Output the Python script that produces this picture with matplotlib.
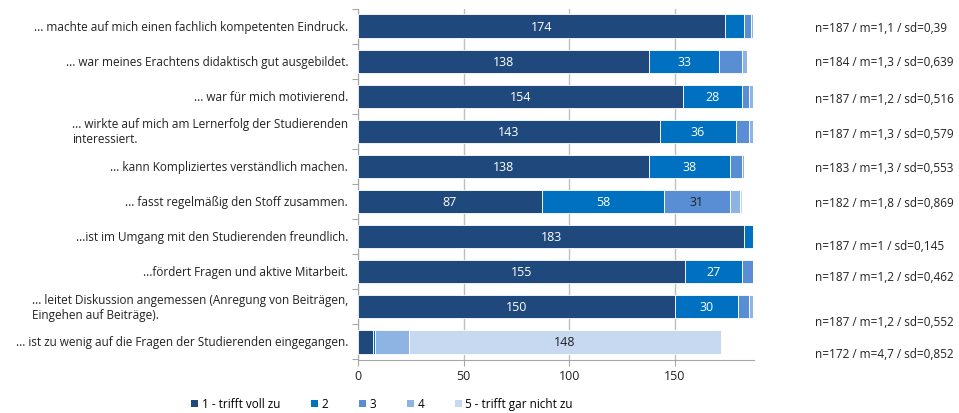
import numpy as np
import matplotlib
matplotlib.use("Agg")
import matplotlib.pyplot as plt
from matplotlib.patches import Patch

plt.rcParams['font.family'] = ['Open Sans', 'DejaVu Sans']

items = [
    "... machte auf mich einen fachlich kompetenten Eindruck.",
    "... war meines Erachtens didaktisch gut ausgebildet.",
    "... war für mich motivierend.",
    "... wirkte auf mich am Lernerfolg der Studierenden\ninteressiert.",
    "... kann Kompliziertes verständlich machen.",
    "... fasst regelmäßig den Stoff zusammen.",
    "...ist im Umgang mit den Studierenden freundlich.",
    "...fördert Fragen und aktive Mitarbeit.",
    "... leitet Diskussion angemessen (Anregung von Beiträgen,\nEingehen auf Beiträge).",
    "... ist zu wenig auf die Fragen der Studierenden eingegangen.",
]

# counts per answer (1 .. 5)
s1 = [174, 138, 154, 143, 138, 87, 183, 155, 150, 7]
s2 = [9, 33, 28, 36, 38, 58, 4, 27, 30, 1]
s3 = [3, 11, 3, 6, 6, 31, 0, 5, 5, 0]
s4 = [1, 2, 2, 2, 1, 5, 0, 0, 2, 16]
s5 = [0, 0, 0, 0, 0, 1, 0, 0, 0, 148]

stats = [
    "n=187 / m=1,1 / sd=0,39",
    "n=184 / m=1,3 / sd=0,639",
    "n=187 / m=1,2 / sd=0,516",
    "n=187 / m=1,3 / sd=0,579",
    "n=183 / m=1,3 / sd=0,553",
    "n=182 / m=1,8 / sd=0,869",
    "n=187 / m=1 / sd=0,145",
    "n=187 / m=1,2 / sd=0,462",
    "n=187 / m=1,2 / sd=0,552",
    "n=172 / m=4,7 / sd=0,852",
]
# pixel rows of the stats text in the original
stats_y = [29, 62, 100, 135, 168, 204, 247, 278, 323, 355]

legend_labels = ["1 - trifft voll zu", "2", "3", "4", "5 - trifft gar nicht zu"]
colors = ["#1F497D", "#0070C0", "#5A8ED4", "#8EB4E3", "#C6D9F1"]
text_colors = ["white", "white", "#222222", "#222222", "#222222"]

W, H = 959, 414
fig = plt.figure(figsize=(W / 100, H / 100), dpi=100)
ax = fig.add_axes([358 / W, 1 - 360.5 / H, 396 / W, 351 / H])

y = np.arange(len(items))
series = [s1, s2, s3, s4, s5]
left = np.zeros(len(items))
for vals, c, tc in zip(series, colors, text_colors):
    vals = np.array(vals, dtype=float)
    ax.barh(y, vals, left=left, height=0.66, color=c, edgecolor="white",
            linewidth=0.6, zorder=3)
    for yi, v, l in zip(y, vals, left):
        if v >= 20:
            ax.text(l + v / 2, yi, str(int(v)), ha="center", va="center",
                    color=tc, fontsize=9, zorder=4)
    left += vals

ax.set_xlim(0, 187.5)
ax.set_ylim(len(items) - 0.5, -0.5)
ax.set_xticks([0, 50, 100, 150])
ax.set_yticks(np.arange(len(items) + 1) - 0.5)
ax.set_yticklabels([])
ax.tick_params(axis="x", length=4, color="#A6A6A6", labelsize=9, pad=3,
               labelcolor="#222222")
ax.tick_params(axis="y", length=4, color="#A6A6A6")
ax.grid(axis="x", color="#BFBFBF", linewidth=1, zorder=0)
for s in ["top", "right"]:
    ax.spines[s].set_visible(False)
for s in ["left", "bottom"]:
    ax.spines[s].set_color("#A6A6A6")

for yi, lab in zip(y, items):
    ax.text(-0.025, yi, lab, transform=ax.get_yaxis_transform(), ha="right",
            va="center", multialignment="left", fontsize=8.5, color="#222222")

for st, py in zip(stats, stats_y):
    fig.text(815 / W, 1 - py / H, st, ha="left", va="center", fontsize=8.5,
             color="#222222")

handles = [Patch(facecolor=c, edgecolor="none") for c in colors]
fig.legend(handles, legend_labels, loc="center", bbox_to_anchor=(382 / W, 1 - 405 / H),
           ncol=5, frameon=False, fontsize=8.5, handlelength=0.6, handleheight=0.6,
           handletextpad=0.3, columnspacing=2.6)

fig.savefig("out.png", dpi=100)
